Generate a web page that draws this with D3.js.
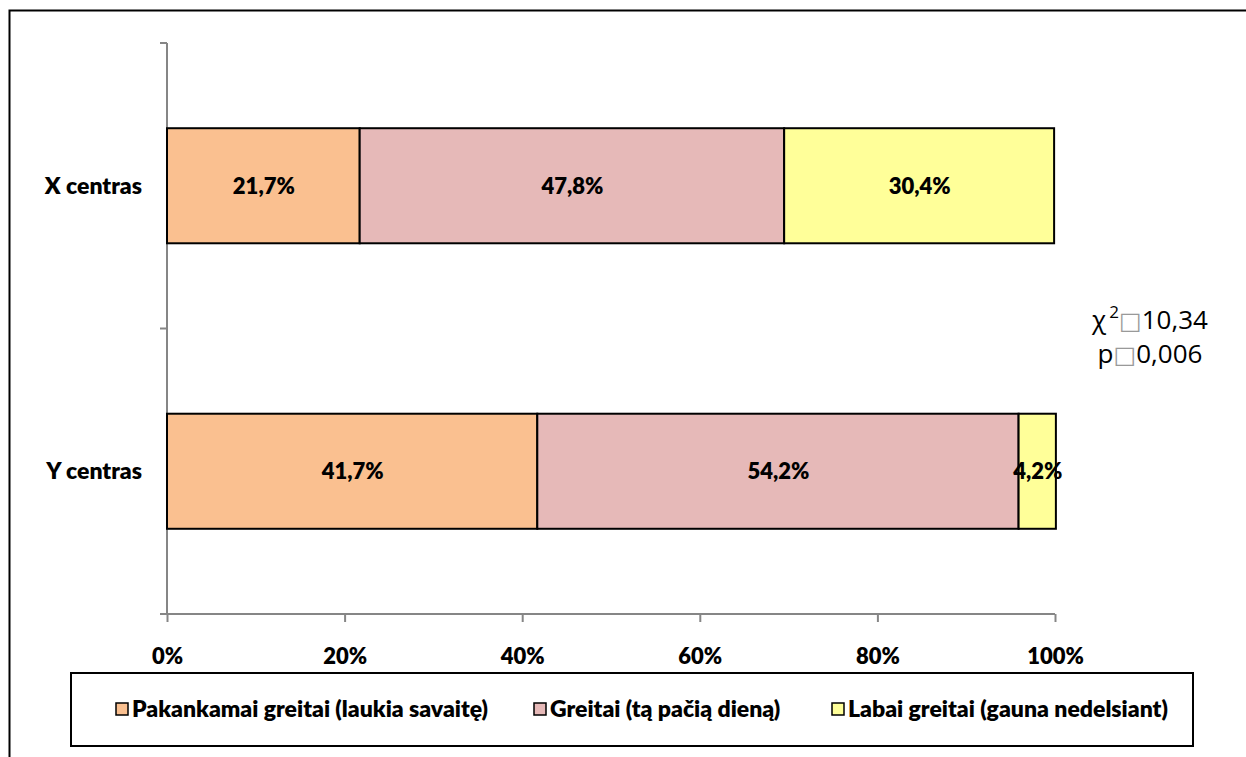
<!DOCTYPE html>
<html><head><meta charset="utf-8">
<script src="https://cdn.jsdelivr.net/npm/d3@7"></script>
<style>body{margin:0;background:#fff}svg{display:block}</style>
</head><body>
<svg id="c" width="1246" height="757"></svg>
<script>
const categories = ["X centras", "Y centras"];
const seriesNames = ["Pakankamai greitai (laukia savaitę)", "Greitai (tą pačią dieną)", "Labai greitai (gauna nedelsiant)"];
const pakankamai = [21.7, 41.7];
const greitai = [47.8, 54.2];
const labai = [30.4, 4.2];
const xTicks = [0, 20, 40, 60, 80, 100];
const colors = ["#FAC090", "#E6B9B8", "#FFFF99"];
const statLines = ["10,34", "0,006"];

const svg = d3.select("#c");
const font = "Lato, 'Liberation Sans', sans-serif";
const fw = 800;

// outer frame
svg.append("rect").attr("x", 9.5).attr("y", 10.5).attr("width", 1300).attr("height", 800)
  .attr("fill", "none").attr("stroke", "#000").attr("stroke-width", 2);

const x = d3.scaleLinear().domain([0, 100]).range([167, 1055]);
const y = d3.scaleBand().domain(categories).range([43, 614]).paddingInner(0.597).paddingOuter(0.2985);

const series = [pakankamai, greitai, labai];
const stackData = categories.map((c, i) => ({cat: c, s0: series[0][i], s1: series[1][i], s2: series[2][i]}));
const stack = d3.stack().keys(["s0", "s1", "s2"])(stackData);

// axes
const axisColor = "#868686";
const g = svg.append("g");
g.append("line").attr("x1", x(0)).attr("x2", x(0)).attr("y1", y.range()[0]).attr("y2", y.range()[1])
  .attr("stroke", axisColor).attr("stroke-width", 2);
const bounds = [y.range()[0], y.range()[0] + y.step(), y.range()[1]];
bounds.forEach(b => g.append("line").attr("x1", x(0) - 7).attr("x2", x(0)).attr("y1", b).attr("y2", b)
  .attr("stroke", axisColor).attr("stroke-width", 2));

const xAxis = d3.axisBottom(x).tickValues(xTicks).tickSize(8).tickFormat(d => d + "%");
const xg = svg.append("g").attr("transform", `translate(0,${y.range()[1]})`).call(xAxis);
xg.select(".domain").attr("stroke", axisColor).attr("stroke-width", 2).attr("d", `M${x(0)-7},0H${x(100)}`);
xg.selectAll(".tick line").attr("stroke", axisColor).attr("stroke-width", 2);
xg.selectAll(".tick text").attr("font-family", font).attr("font-weight", fw).attr("font-size", 22)
  .attr("fill", "#000").attr("dy", 0).attr("y", 50);

// bars
stack.forEach((layer, li) => {
  svg.append("g").selectAll("rect").data(layer).join("rect")
    .attr("x", d => x(d[0])).attr("width", d => x(d[1]) - x(d[0]))
    .attr("y", d => y(d.data.cat)).attr("height", y.bandwidth())
    .attr("fill", colors[li]).attr("stroke", "#000").attr("stroke-width", 2);
});
stack.forEach((layer, li) => {
  svg.append("g").selectAll("text").data(layer).join("text")
    .attr("x", d => (x(d[0]) + x(d[1])) / 2 + 0.5)
    .attr("y", d => y(d.data.cat) + y.bandwidth() / 2 + 8)
    .attr("text-anchor", "middle").attr("font-family", font).attr("font-weight", fw)
    .attr("font-size", 22).attr("fill", "#000")
    .text(d => (d[1] - d[0]).toFixed(1).replace(".", ",") + "%");
});

// category labels
svg.append("g").selectAll("text").data(categories).join("text")
  .attr("x", 142).attr("y", d => y(d) + y.bandwidth() / 2 + 8)
  .attr("text-anchor", "end").attr("font-family", font).attr("font-weight", fw)
  .attr("font-size", 23).attr("fill", "#000").text(d => d);

// stat text
const st = svg.append("g").attr("font-family", "'Open Sans', 'DejaVu Sans', sans-serif").attr("font-size", 26).attr("fill", "#000");
const t1 = st.append("text").attr("x", 1150).attr("y", 329).attr("text-anchor", "middle");
t1.append("tspan").text("χ");
t1.append("tspan").attr("font-size", 17).attr("dy", -11).attr("dx", 3).text("2");
t1.append("tspan").attr("dy", 11).attr("fill", "#999").attr("font-size", 24).text("□");
t1.append("tspan").text(statLines[0]);
const t2 = st.append("text").attr("x", 1150).attr("y", 363).attr("text-anchor", "middle");
t2.append("tspan").text("p");
t2.append("tspan").attr("fill", "#999").attr("font-size", 24).text("□");
t2.append("tspan").text(statLines[1]);

// legend
svg.append("rect").attr("x", 71).attr("y", 673).attr("width", 1122).attr("height", 73)
  .attr("fill", "#fff").attr("stroke", "#000").attr("stroke-width", 2);
const legendX = [116, 534, 832];
const lg = svg.append("g").selectAll("g").data(seriesNames).join("g")
  .attr("transform", (d, i) => `translate(${legendX[i]},703)`);
lg.append("rect").attr("width", 12).attr("height", 12).attr("fill", (d, i) => colors[i])
  .attr("stroke", "#000").attr("stroke-width", 1.5);
lg.append("text").attr("x", 16).attr("y", 14).attr("font-family", font).attr("font-weight", fw)
  .attr("font-size", 23).attr("fill", "#000").text(d => d);
</script>
</body></html>
